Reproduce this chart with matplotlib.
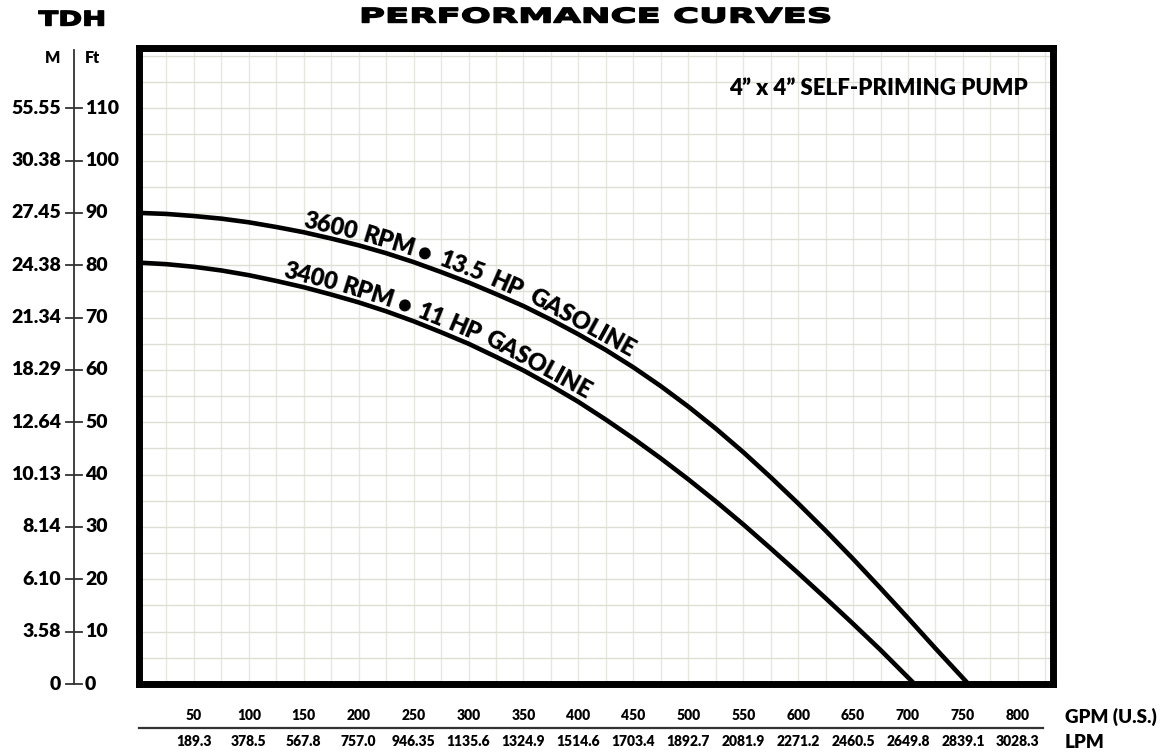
import numpy as np
import matplotlib
matplotlib.use('Agg')
import matplotlib.pyplot as plt
from matplotlib import patheffects
from matplotlib.transforms import Affine2D, blended_transform_factory

plt.rcParams['font.family'] = ['Lato', 'DejaVu Sans']

# --- pump curves (flow in US GPM, head in ft) ---
gpm_3600 = [0, 25, 50, 75, 100, 125, 150, 175, 200, 225, 250, 275, 300, 325, 350, 375,
            400, 425, 450, 475, 500, 525, 550, 575, 600, 625, 650, 675, 700, 725, 755]
tdh_3600 = [90, 89.8, 89.4, 88.9, 88.2, 87.3, 86.3, 85.1, 83.8, 82.3, 80.6, 78.7, 76.7, 74.5, 72.2, 69.6,
            66.8, 63.8, 60.5, 56.9, 53.0, 48.8, 44.3, 39.5, 34.5, 29.3, 23.9, 18.3, 12.6, 6.8, 0]

gpm_3400 = [0, 25, 50, 75, 100, 125, 150, 175, 200, 225, 250, 275, 300, 325, 350, 375,
            400, 425, 450, 475, 500, 525, 550, 575, 600, 625, 650, 675, 706]
tdh_3400 = [80.5, 80.2, 79.7, 79.0, 78.1, 77.0, 75.8, 74.4, 72.9, 71.2, 69.3, 67.2, 65.0, 62.5, 59.9, 57.0,
            53.9, 50.5, 46.9, 43.1, 39.1, 34.9, 30.5, 25.9, 21.2, 16.4, 11.5, 6.5, 0]

# words of each curve label and where (in GPM) each word sits along its curve
words_3600 = ['3600', 'RPM', '•', '13.5', 'HP', 'GASOLINE']
at_3600 = [172, 224, 256, 290, 330, 398]
words_3400 = ['3400', 'RPM', '•', '11', 'HP', 'GASOLINE']
at_3400 = [154, 205, 238, 262, 292, 358]

# --- scales ---
ft_ticks = [0, 10, 20, 30, 40, 50, 60, 70, 80, 90, 100, 110]
m_labels = ['0', '3.58', '6.10', '8.14', '10.13', '12.64', '18.29', '21.34',
            '24.38', '27.45', '30.38', '55.55']
gpm_ticks = [50, 100, 150, 200, 250, 300, 350, 400, 450, 500, 550, 600, 650, 700, 750, 800]
lpm_labels = ['189.3', '378.5', '567.8', '757.0', '946.35', '1135.6', '1324.9', '1514.6',
              '1703.4', '1892.7', '2081.9', '2271.2', '2460.5', '2649.8', '2839.1', '3028.3']


class Stretch(patheffects.AbstractPathEffect):
    """Draw a text path widened horizontally about its centre, with an optional outline."""
    def __init__(self, sx, lw=0.0):
        super().__init__()
        self.sx = sx
        self.lw = lw

    def draw_path(self, renderer, gc, tpath, affine, rgbFace=None):
        ext = tpath.get_extents(affine)
        cx = 0.5 * (ext.x0 + ext.x1)
        aff = affine + Affine2D().translate(-cx, 0).scale(self.sx, 1).translate(cx, 0)
        gc0 = renderer.new_gc()
        gc0.copy_properties(gc)
        gc0.set_linewidth(self.lw)
        gc0.set_foreground(rgbFace)
        gc0.set_joinstyle('round')
        renderer.draw_path(gc0, tpath, Affine2D(aff.get_matrix()), rgbFace)
        gc0.restore()


W, H = 1164, 753
fig = plt.figure(figsize=(W / 100, H / 100), dpi=100)
ax = fig.add_axes([139 / W, 69 / H, 914 / W, 636 / H])
ax.set_xlim(0, 832)
ax.set_ylim(0, 121.5)

# graph paper
ax.set_xticks(np.arange(25, 832, 25))
ax.set_yticks(np.arange(5, 121, 5))
ax.tick_params(length=0, labelbottom=False, labelleft=False)
ax.grid(axis='x', color='#e8e7df', linewidth=1)
ax.grid(axis='y', color='#dfded3', linewidth=1)
for sp in ax.spines.values():
    sp.set_linewidth(5)
    sp.set_color('black')

ax.plot(gpm_3600, tdh_3600, color='black', lw=3.3, solid_joinstyle='round')
ax.plot(gpm_3400, tdh_3400, color='black', lw=3.3, solid_joinstyle='round')


def label_curve(words, at, xs, ys, offset=3.5):
    for w, g in zip(words, at):
        y = np.interp(g, xs, ys)
        p0 = ax.transData.transform((g - 10, np.interp(g - 10, xs, ys)))
        p1 = ax.transData.transform((g + 10, np.interp(g + 10, xs, ys)))
        ang = np.degrees(np.arctan2(p1[1] - p0[1], p1[0] - p0[0]))
        nx, ny = -np.sin(np.radians(ang)), np.cos(np.radians(ang))
        ax.annotate(w, xy=(g, y), xytext=(nx * offset, ny * offset),
                    textcoords='offset points', rotation=ang, rotation_mode='anchor',
                    ha='center', va='baseline', fontsize=17, fontweight='heavy')


label_curve(words_3600, at_3600, gpm_3600, tdh_3600)
label_curve(words_3400, at_3400, gpm_3400, tdh_3400)

ax.text(0.972, 0.937, '4” x 4” SELF-PRIMING PUMP', transform=ax.transAxes,
        ha='right', va='center', fontsize=16, fontweight='heavy')

# left TDH scale (metres | feet)
tr_y = blended_transform_factory(fig.transFigure, ax.transData)
xl = 74 / W
fig.add_artist(plt.Line2D([xl, xl], [0, 121.1], transform=tr_y, color='#333', lw=1.3))
for ft, m in zip(ft_ticks, m_labels):
    fig.add_artist(plt.Line2D([66 / W, 82 / W], [ft, ft], transform=tr_y, color='#333', lw=1.3))
    fig.text(61 / W, ft, m, transform=tr_y, ha='right', va='center', fontsize=14, fontweight='heavy')
    fig.text(85 / W, ft, str(ft), transform=tr_y, ha='left', va='center', fontsize=14, fontweight='heavy')
fig.text(53 / W, 119.6, 'M', transform=tr_y, ha='center', va='center', fontsize=11.5, fontweight='heavy')
fig.text(93 / W, 119.6, 'Ft', transform=tr_y, ha='center', va='center', fontsize=11.5, fontweight='heavy')

fig.text(72 / W, 1 - 20 / H, 'TDH', ha='center', va='center', family='DejaVu Sans',
         fontsize=14.5, fontweight='bold', path_effects=[Stretch(1.43, 1.0)])
fig.text(596 / W, 1 - 17 / H, 'PERFORMANCE CURVES', ha='center', va='center',
         family='DejaVu Sans', fontsize=14.5, fontweight='bold', path_effects=[Stretch(1.76, 1.0)])

# bottom flow scale (GPM over LPM)
tr_x = blended_transform_factory(ax.transData, fig.transFigure)
fig.add_artist(plt.Line2D([0, 823], [1 - 728 / H, 1 - 728 / H], transform=tr_x, color='#333', lw=1.6))
for g, lpm in zip(gpm_ticks, lpm_labels):
    fig.text(g, 1 - 716 / H, str(g), transform=tr_x, ha='center', va='center',
             fontsize=10, fontweight='heavy')
    fig.text(g, 1 - 741 / H, lpm, transform=tr_x, ha='center', va='center',
             fontsize=10, fontweight='heavy')
fig.text(1065 / W, 1 - 717 / H, 'GPM (U.S.)', ha='left', va='center', fontsize=13.5, fontweight='heavy')
fig.text(1065 / W, 1 - 742 / H, 'LPM', ha='left', va='center', fontsize=13.5, fontweight='heavy')

fig.savefig('out.png', dpi=100)
